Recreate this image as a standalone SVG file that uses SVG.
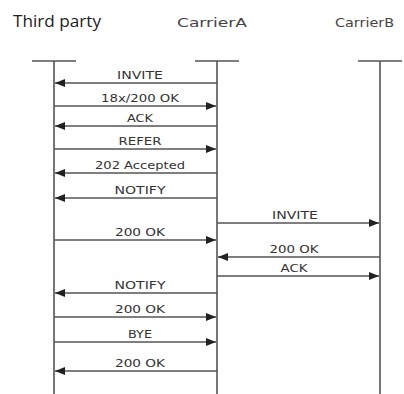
<svg xmlns="http://www.w3.org/2000/svg" width="404" height="394" viewBox="0 0 404 394">
<defs>
<marker id="ah" viewBox="0 0 10 8" refX="10" refY="4" markerWidth="10" markerHeight="8" markerUnits="userSpaceOnUse" orient="auto">
<path d="M0,0 L10,4 L0,8 Z" fill="#222"/>
</marker>
<style>
.bg{fill:#fff}
.life{stroke:#555;stroke-width:1.6;fill:none}
.msg{stroke:#555;stroke-width:1.5;fill:none;marker-end:url(#ah)}
.lbl{font-family:"DejaVu Sans",Verdana,sans-serif;font-size:10px;fill:#333;text-anchor:middle}
.title{font-family:"DejaVu Sans",Verdana,sans-serif;font-size:13px;fill:#444}
.tp{font-family:"Open Sans","Liberation Sans",Arial,sans-serif;font-size:17px;fill:#222}
</style>
</defs>
<rect class="bg" x="0" y="0" width="404" height="394"/>
<g id="third-party">
<text class="tp" x="13" y="27" textLength="88" lengthAdjust="spacingAndGlyphs">Third party</text>
<line class="life" x1="32" y1="61" x2="76" y2="61"/>
<line class="life" x1="54" y1="61" x2="54" y2="394"/>
</g>
<g id="carrier-a">
<text class="title" x="177" y="27" textLength="70" lengthAdjust="spacingAndGlyphs">CarrierA</text>
<line class="life" x1="195" y1="61" x2="239" y2="61"/>
<line class="life" x1="217" y1="61" x2="217" y2="394"/>
</g>
<g id="carrier-b">
<text class="title" x="335" y="27" textLength="59" lengthAdjust="spacingAndGlyphs">CarrierB</text>
<line class="life" x1="358" y1="61" x2="402" y2="61"/>
<line class="life" x1="380" y1="61" x2="380" y2="394"/>
</g>
<g id="connectors">
<line class="msg" x1="217" y1="83" x2="55" y2="83"/>
<text class="lbl" x="140" y="79" textLength="46" lengthAdjust="spacingAndGlyphs">INVITE</text>
<line class="msg" x1="54" y1="106" x2="216" y2="106"/>
<text class="lbl" x="140" y="102" textLength="78" lengthAdjust="spacingAndGlyphs">18x/200 OK</text>
<line class="msg" x1="217" y1="126" x2="55" y2="126"/>
<text class="lbl" x="140" y="122" textLength="26" lengthAdjust="spacingAndGlyphs">ACK</text>
<line class="msg" x1="54" y1="149" x2="216" y2="149"/>
<text class="lbl" x="140" y="145" textLength="43" lengthAdjust="spacingAndGlyphs">REFER</text>
<line class="msg" x1="217" y1="173" x2="55" y2="173"/>
<text class="lbl" x="140" y="169" textLength="90" lengthAdjust="spacingAndGlyphs">202 Accepted</text>
<line class="msg" x1="217" y1="198" x2="55" y2="198"/>
<text class="lbl" x="140" y="194" textLength="51" lengthAdjust="spacingAndGlyphs">NOTIFY</text>
<line class="msg" x1="217" y1="223" x2="379" y2="223"/>
<text class="lbl" x="295" y="219" textLength="46" lengthAdjust="spacingAndGlyphs">INVITE</text>
<line class="msg" x1="54" y1="240" x2="216" y2="240"/>
<text class="lbl" x="140" y="236" textLength="50" lengthAdjust="spacingAndGlyphs">200 OK</text>
<line class="msg" x1="380" y1="257" x2="218" y2="257"/>
<text class="lbl" x="294" y="253" textLength="49" lengthAdjust="spacingAndGlyphs">200 OK</text>
<line class="msg" x1="217" y1="276" x2="379" y2="276"/>
<text class="lbl" x="294" y="272" textLength="27" lengthAdjust="spacingAndGlyphs">ACK</text>
<line class="msg" x1="217" y1="293" x2="55" y2="293"/>
<text class="lbl" x="140" y="289" textLength="51" lengthAdjust="spacingAndGlyphs">NOTIFY</text>
<line class="msg" x1="54" y1="317" x2="216" y2="317"/>
<text class="lbl" x="140" y="313" textLength="50" lengthAdjust="spacingAndGlyphs">200 OK</text>
<line class="msg" x1="54" y1="342" x2="216" y2="342"/>
<text class="lbl" x="140" y="338" textLength="24" lengthAdjust="spacingAndGlyphs">BYE</text>
<line class="msg" x1="217" y1="371" x2="55" y2="371"/>
<text class="lbl" x="140" y="367" textLength="50" lengthAdjust="spacingAndGlyphs">200 OK</text>
</g>
</svg>
